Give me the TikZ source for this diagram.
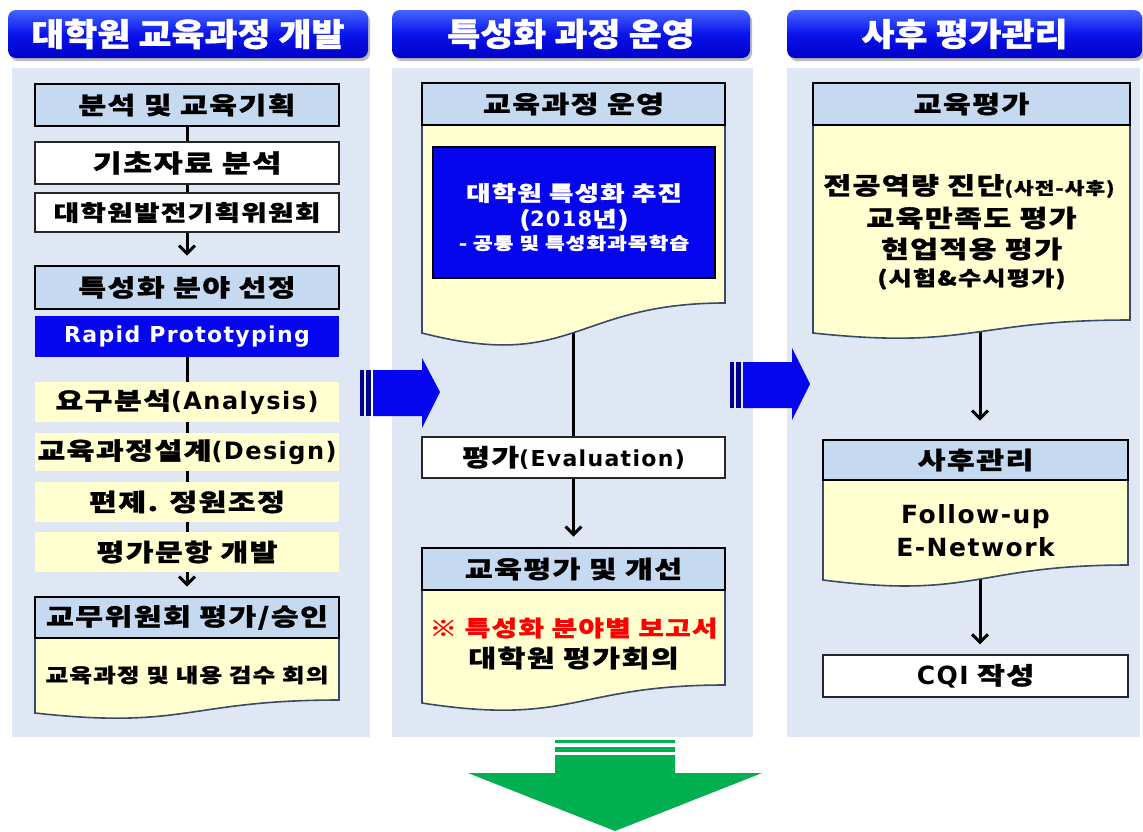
\documentclass[tikz,border=0pt]{standalone}
\usepackage{fontspec}
\setmainfont{Noto Sans CJK KR}[FakeStretch=1.26, LetterSpace=6, BoldFeatures={FakeBold=1.2}]
\newfontfamily\hdrfont{Noto Sans CJK KR}[FakeStretch=1.12, BoldFeatures={FakeBold=1.2}]
\newfontfamily\en{DejaVu Sans}[LetterSpace=6]
\usetikzlibrary{arrows.meta,shadows}
\definecolor{panel}{RGB}{222,231,243}
\definecolor{tfill}{RGB}{197,217,241}
\definecolor{yel}{RGB}{255,255,208}
\definecolor{bblue}{RGB}{5,5,240}
\definecolor{navy}{RGB}{0,0,140}
\definecolor{gr}{RGB}{0,176,80}
\definecolor{docline}{RGB}{55,75,105}
\definecolor{hdtop}{RGB}{70,100,255}
\definecolor{hdmid}{RGB}{10,20,235}
\definecolor{hdbot}{RGB}{0,0,200}
\pgfdeclarelayer{back}\pgfdeclarelayer{mid}\pgfsetlayers{back,mid,main}
\newcommand\docbody[5]{%
  \filldraw[fill=yel, draw=docline, line width=1.6pt]
    (#1,#3) -- (#2,#3) -- (#2,#4)
    .. controls ({(#1+#2)/2},#4) and ({(#1+#2)/2},{#5+1.3*(#5-#4)}) .. (#1,#5) -- cycle;}
\begin{document}
\begin{tikzpicture}[x=1pt,y=-1pt,
  box/.style={inner sep=0pt, align=center, font=\bfseries\fontsize{24}{28}\selectfont},
  tbox/.style={box, draw=black, line width=2.6pt, fill=tfill},
  wbox/.style={box, draw=black!85, line width=1.2pt, fill=white},
  bbox/.style={box, fill=bblue, text=white},
  ybox/.style={box, fill=yel},
  txt/.style={inner sep=0pt, align=center, font=\bfseries\fontsize{24}{28}\selectfont},
  hdr/.style={inner sep=0pt, rounded corners=8pt, text=white,
    top color=hdtop, bottom color=hdbot, middle color=hdmid,
    drop shadow={shadow xshift=2pt, shadow yshift=-3pt, fill=black!45, opacity=.6},
    font=\hdrfont\bfseries\fontsize{32}{34}\selectfont},
  conn/.style={line width=3pt, black},
  arr/.style={conn, -{Straight Barb[length=8pt,width=16pt]}}]
\useasboundingbox (0,0) rectangle (1143,831);
% background and panels
\begin{pgfonlayer}{back}
\fill[white] (0,0) rectangle (1143,831);
\fill[panel] (12,68) rectangle (370,737);
\fill[panel] (392,68) rectangle (753,737);
\fill[panel] (787,68) rectangle (1140,737);
\end{pgfonlayer}
% headers
\node[hdr, minimum width=360pt, minimum height=48pt] (h1) at (188,34) {대학원 교육과정 개발};
\node[hdr, minimum width=358pt, minimum height=48pt] (h2) at (571,34) {특성화 과정 운영};
\node[hdr, minimum width=355pt, minimum height=48pt] (h3) at (964.5,34) {사후 평가관리};

% ---------- column 1
\begin{scope}[every node/.append style={minimum width=304pt}]
\node[tbox, minimum height=42pt] (t1) at (187,105) {분석 및 교육기획};
\node[wbox, minimum height=42pt, font=\bfseries\fontsize{25}{28}\selectfont] (n1) at (187,163) {기초자료 분석};
\node[wbox, minimum height=39pt, font=\bfseries\fontsize{22}{26}\selectfont] (n2) at (187,212.5) {대학원발전기획위원회};
\node[tbox, minimum height=43pt] (t2) at (187,287.5) {특성화 분야 선정};
\node[bbox, minimum height=41pt, font=\en\bfseries\fontsize{22}{24}\selectfont] (rp) at (187,336.5) {Rapid Prototyping};
\node[ybox, minimum height=40pt] (y1) at (187,402) {요구분석{\en(Analysis)}};
\node[ybox, minimum height=38pt] (y2) at (187,452) {교육과정설계{\en(Design)}};
\node[ybox, minimum height=40pt] (y3) at (187,502) {편제. 정원조정};
\node[ybox, minimum height=40pt] (y4) at (187,552) {평가문항 개발};
\end{scope}
\docbody{35}{339}{620}{700}{713}
\node[tbox, minimum width=304pt, minimum height=41pt] (t3) at (187,617.5) {교무위원회 평가/승인};
\node[txt, font=\bfseries\fontsize{19.5}{22}\selectfont] (d1t) at (187,675) {교육과정 및 내용 검수 회의};

\draw[conn] (t1) -- (n1);
\draw[conn] (n1) -- (n2);
\draw[arr, shorten >=9pt] (n2) -- (t2);
\begin{pgfonlayer}{mid}
\draw[arr, shorten >=9pt] (rp) -- (t3);
\end{pgfonlayer}

% ---------- column 2
\docbody{422}{725}{110}{303}{333}
\node[tbox, minimum width=303pt, minimum height=42pt] (t4) at (573.5,104) {교육과정 운영};
\node[bbox, draw=black, line width=1.8pt, minimum width=282pt, minimum height=131pt] (bx) at (574,212.5) {};
\node[txt, text=white, font=\bfseries\fontsize{21}{24}\selectfont] (bx1) at (574,193) {대학원 특성화 추진};
\node[txt, text=white, font=\bfseries\fontsize{21}{24}\selectfont] (bx2) at (574,220) {({\en 2018}년)};
\node[txt, text=white, font=\bfseries\fontsize{17}{20}\selectfont] (bx3) at (574,243) {- 공통 및 특성화과목학습};
\node[wbox, minimum width=303pt, minimum height=41pt] (ev) at (573.5,457.5) {평가{\en\fontsize{22}{24}\selectfont(Evaluation)}};
\docbody{422}{725}{575}{685}{703}
\node[tbox, minimum width=303pt, minimum height=42pt] (t5) at (573.5,569) {교육평가 및 개선};
\node[txt, text=red, font=\bfseries\fontsize{22}{26}\selectfont] (d2a) at (573.5,628) {※ 특성화 분야별 보고서};
\node[txt] (d2b) at (573.5,658) {대학원 평가회의};
\coordinate (d2s) at (573.5,320);
\begin{pgfonlayer}{mid}
\draw[conn] (d2s) -- (d2s |- ev.north);
\end{pgfonlayer}
\draw[arr, shorten >=10pt] (ev) -- (t5);

% ---------- column 3
\docbody{813}{1130}{110}{320}{333}
\node[tbox, minimum width=317pt, minimum height=42pt] (t6) at (971.5,104) {교육평가};
\node[txt] (d3a) at (969,186) {전공역량 진단{\fontsize{17}{20}\selectfont(사전-사후)}};
\node[txt] (d3b) at (971.5,218) {교육만족도 평가};
\node[txt] (d3c) at (971.5,249) {현업적용 평가};
\node[txt, font=\bfseries\fontsize{20}{22}\selectfont] (d3d) at (971.5,279) {(시험\&수시평가)};
\docbody{823}{1128}{465}{565}{580}
\node[tbox, minimum width=305pt, minimum height=40pt] (t7) at (975.5,460) {사후관리};
\node[txt, font=\en\bfseries\fontsize{25}{26}\selectfont] (d4a) at (975.5,517) {Follow-up};
\node[txt, font=\en\bfseries\fontsize{25}{26}\selectfont] (d4b) at (975.5,547) {E-Network};
\node[wbox, minimum width=305pt, minimum height=42pt] (cq) at (975.5,676) {{\en\fontsize{25}{28}\selectfont CQI} 작성};
\coordinate (d3s) at (980,320);
\coordinate (d4s) at (980,560);
\begin{pgfonlayer}{mid}
\draw[arr, shorten >=18pt] (d3s) -- (d3s |- t7.north);
\draw[arr, shorten >=10pt] (d4s) -- (d4s |- cq.north);
\end{pgfonlayer}

% ---------- block arrows
\fill[navy] (360,370) rectangle (364,416);
\fill[navy] (366,370) rectangle (371,416);
\fill[bblue] (373,370) -- (422,370) -- (422,358) -- (440,392) -- (422,428) -- (422,416) -- (373,416) -- cycle;
\fill[navy] (730,362) rectangle (734,408);
\fill[navy] (736,362) rectangle (741,408);
\fill[bblue] (743,362) -- (792,362) -- (792,348) -- (810,384) -- (792,420) -- (792,408) -- (743,408) -- cycle;
\fill[gr] (555,740) rectangle (675,743);
\fill[gr] (555,747) rectangle (675,752);
\fill[gr] (555,755) -- (675,755) -- (675,773) -- (762,773) -- (615,831) -- (468,773) -- (555,773) -- cycle;
\end{tikzpicture}
\end{document}
